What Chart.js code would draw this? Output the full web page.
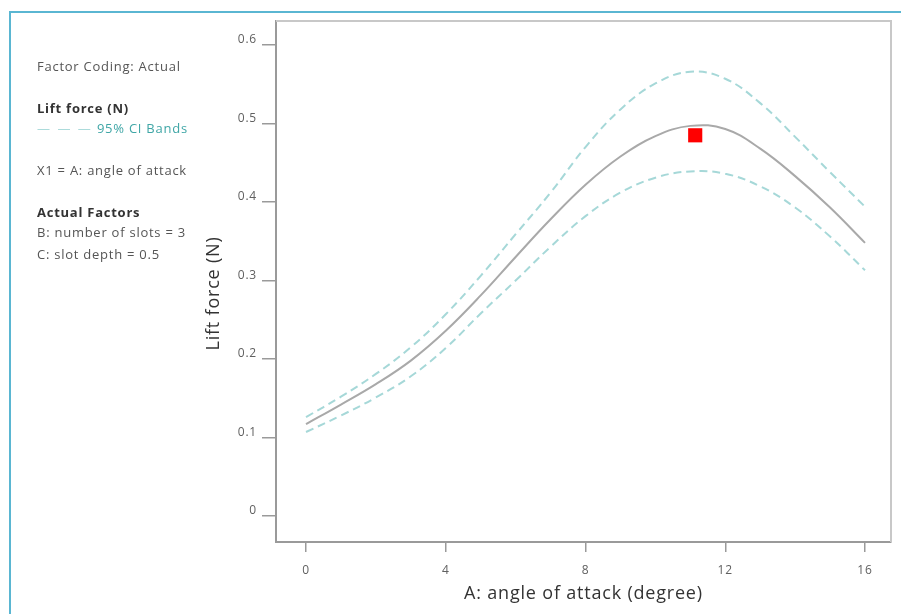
<!DOCTYPE html>
<html>
<head>
<meta charset="utf-8">
<script src="https://cdn.jsdelivr.net/npm/chart.js@4.4.1/dist/chart.umd.min.js"></script>
<style>
  html, body { margin:0; padding:0; background:#fff; }
  body { width:901px; height:614px; position:relative; overflow:hidden; font-family:'Open Sans', sans-serif; }
  #frame { position:absolute; left:9px; top:11px; width:900px; height:620px;
           border-left:2px solid #5ab6d2; border-top:2px solid #5ab6d2; }
  #wrap { position:absolute; left:0; top:0; width:901px; height:614px; }
  #notes { position:absolute; left:37px; top:56px; width:156px; overflow:hidden;
           font-size:13px; letter-spacing:0.75px; color:#555; white-space:nowrap; line-height:20px; }
  #notes b { color:#333; }
  .ci { color:#3fa6a6; }
  .ci span { color:#a8d9d9; letter-spacing:2px; }
</style>
</head>
<body>
<div id="frame"></div>
<div id="wrap"><canvas id="chart"></canvas></div>
<div id="notes">
  <div>Factor Coding: Actual</div>
  <div style="margin-top:22px"><b>Lift force (N)</b></div>
  <div class="ci"><span>— — —</span> 95% CI Bands</div>
  <div style="margin-top:22px">X1 = A: angle of attack</div>
  <div style="margin-top:22px"><b>Actual Factors</b></div>
  <div>B: number of slots = 3</div>
  <div style="margin-top:2px">C: slot depth = 0.5</div>
</div>
<script>
/* ---- data ---- */
const angle     = [0, 1, 2, 3, 4, 5, 6, 7, 8, 9, 10, 11, 12, 13, 14, 15, 16];
const liftMean  = [0.117, 0.142, 0.168, 0.198, 0.236, 0.281, 0.330, 0.378, 0.422, 0.458, 0.484, 0.497, 0.493, 0.468, 0.433, 0.393, 0.348];
const ciUpper   = [0.126, 0.152, 0.181, 0.215, 0.257, 0.306, 0.359, 0.412, 0.470, 0.518, 0.551, 0.566, 0.557, 0.526, 0.483, 0.438, 0.394];
const ciLower   = [0.107, 0.128, 0.151, 0.178, 0.214, 0.258, 0.300, 0.343, 0.382, 0.412, 0.431, 0.439, 0.436, 0.420, 0.393, 0.356, 0.313];
const designPt  = [{ x:11.14, y:0.485 }];
const xTicks    = [0, 4, 8, 12, 16];
const yTicks    = [0, 0.1, 0.2, 0.3, 0.4, 0.5, 0.6];
const yTitle    = 'Lift force (N)';

const pts = ys => angle.map((x, i) => ({ x, y: ys[i] }));

const tickFont = { family:'Open Sans, sans-serif', size:12 };
const tickClr  = '#606060';
const axisClr  = '#9a9a9a';

/* wider text like the original export, top/right sides of the box, y title */
const boxPlugin = {
  id:'box',
  beforeDraw(chart) { chart.ctx.letterSpacing = '0.8px'; },
  beforeDatasetsDraw(chart) {
    const a = chart.chartArea, c = chart.ctx;
    c.save();
    c.strokeStyle = '#c8c8c8';
    c.lineWidth = 2;
    c.beginPath();
    c.moveTo(a.left, a.top);
    c.lineTo(a.right, a.top);
    c.lineTo(a.right, a.bottom);
    c.stroke();
    c.restore();
  },
  afterDraw(chart) {
    const a = chart.chartArea, c = chart.ctx;
    c.save();
    c.translate(a.left - 62, (a.top + a.bottom) / 2 + 12);
    c.rotate(-Math.PI / 2);
    c.font = '18px "Open Sans", sans-serif';
    c.fillStyle = '#333';
    c.textAlign = 'center';
    c.textBaseline = 'middle';
    c.fillText(yTitle, 0, 0);
    c.restore();
  }
};

new Chart(document.getElementById('chart'), {
  type:'scatter',
  data:{ datasets:[
    { label:'95% CI upper', data:pts(ciUpper), showLine:true, pointRadius:0, tension:0.4,
      borderColor:'#a6d8d8', borderWidth:2, borderDash:[8,5] },
    { label:'Lift force (N)', data:pts(liftMean), showLine:true, pointRadius:0, tension:0.4,
      borderColor:'#a9a9a9', borderWidth:2 },
    { label:'95% CI lower', data:pts(ciLower), showLine:true, pointRadius:0, tension:0.4,
      borderColor:'#a6d8d8', borderWidth:2, borderDash:[8,5] },
    { label:'Design point', data:designPt, pointStyle:'rect', pointRadius:10,
      backgroundColor:'#ff0000', borderColor:'#ff0000', borderWidth:0 },
  ]},
  options:{
    responsive:true, maintainAspectRatio:false, animation:false,
    layout:{ padding:{ left:198, top:21, right:10, bottom:7 } },
    plugins:{ legend:{ display:false }, tooltip:{ enabled:false } },
    scales:{
      x:{ type:'linear', min:-0.859, max:16.744,
          afterBuildTicks: s => { s.ticks = xTicks.map(v => ({ value:v })); },
          afterFit: s => { s.height = 65; },
          border:{ color:axisClr, width:2 },
          grid:{ drawOnChartArea:false, color:axisClr, tickLength:10, lineWidth:1.5 },
          ticks:{ color:tickClr, font:tickFont, padding:11, maxRotation:0 },
          title:{ display:true, text:'A: angle of attack (degree)', color:'#333',
                  font:{ family:'Open Sans, sans-serif', size:18 }, padding:{ top:0, bottom:2 } } },
      y:{ type:'linear', min:-0.0331, max:0.6306,
          afterBuildTicks: s => { s.ticks = yTicks.map(v => ({ value:v })); },
          afterFit: s => { s.width = 78; },
          border:{ color:axisClr, width:2 },
          grid:{ drawOnChartArea:false, color:axisClr, tickLength:14, lineWidth:1.5 },
          ticks:{ color:tickClr, font:tickFont, padding:5, labelOffset:-5,
                  callback: v => v === 0 ? '0' : v.toFixed(1) } },
    },
  },
  plugins:[boxPlugin],
});
</script>
</body>
</html>
